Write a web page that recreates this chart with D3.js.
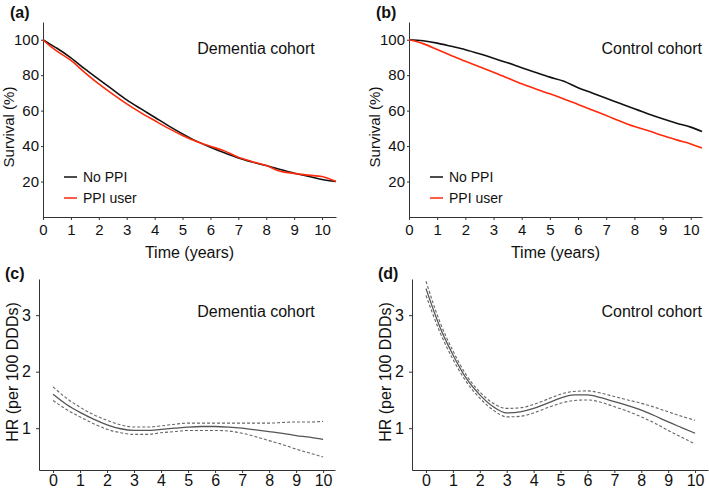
<html lang="en">
<head>
<meta charset="UTF-8">
<title>Survival and HR</title>
<script src="https://d3js.org/d3.v7.min.js"></script>
<style>
  body { margin: 0; background: #fff; }
  text { font-family: "Liberation Sans", Arial, sans-serif; fill: #111; }
  .axis path, .axis line { stroke: #333; }
  .axis text { font-size: 15px; }
</style>
</head>
<body>
<svg width="709" height="489"></svg>
<script>
// ---- data ----
var kmYears = [0, 0.25, 0.5, 1, 1.5, 2, 2.5, 3, 3.5, 4, 4.5, 5, 5.5, 6, 6.5, 7, 7.5, 8, 8.5, 9, 9.5, 10, 10.5];
var demNoPPI = [100, 97.5, 95.2, 89.8, 83.5, 77.6, 71.8, 66.1, 61.1, 56.3, 51.4, 46.9, 42.8, 39.4, 36.2, 33.3, 31.0, 29.0, 26.8, 24.7, 23.0, 21.2, 20];
var demPPI   = [100, 96.5, 93.6, 88.3, 81.5, 75.1, 69.3, 63.8, 58.9, 54.4, 50.0, 46.0, 42.6, 39.9, 37.3, 33.7, 31.2, 29.0, 25.8, 24.6, 23.6, 22.8, 20];
var conYears = [0, 0.5, 1, 1.5, 2, 2.5, 3, 3.5, 4, 4.5, 5, 5.5, 6, 6.5, 7, 7.5, 8, 8.5, 9, 9.5, 10, 10.4];
var conNoPPI = [100, 99.4, 98.1, 96.3, 94.4, 92.1, 89.6, 87.0, 84.2, 81.5, 78.9, 76.6, 72.9, 70.0, 67.0, 64.0, 61.0, 58.1, 55.4, 52.9, 50.7, 48.2];
var conPPI   = [100, 97.8, 94.5, 91.1, 87.8, 84.8, 81.7, 78.4, 75.1, 72.2, 69.5, 66.6, 63.5, 60.4, 57.3, 54.0, 51.0, 48.6, 46.0, 43.5, 41.2, 38.9];
var survTicks = [20, 40, 60, 80, 100];
var yearTicks = [0, 1, 2, 3, 4, 5, 6, 7, 8, 9, 10];

var hrYears = [0, 0.5, 1, 1.5, 2, 2.5, 3, 3.5, 4, 4.5, 5, 5.5, 6, 6.5, 7, 7.5, 8, 8.5, 9, 9.5, 10];
var demHR    = [1.60, 1.42, 1.28, 1.16, 1.06, 0.99, 0.96, 0.96, 0.98, 1.00, 1.02, 1.03, 1.03, 1.02, 1.00, 0.97, 0.94, 0.91, 0.87, 0.84, 0.80];
var demHRhi  = [1.73, 1.53, 1.37, 1.24, 1.14, 1.06, 1.02, 1.02, 1.04, 1.07, 1.09, 1.09, 1.09, 1.09, 1.09, 1.09, 1.09, 1.10, 1.11, 1.11, 1.12];
var demHRlo  = [1.49, 1.33, 1.20, 1.08, 0.98, 0.92, 0.89, 0.89, 0.92, 0.94, 0.96, 0.96, 0.96, 0.95, 0.91, 0.85, 0.78, 0.71, 0.63, 0.56, 0.49];
var conHR    = [3.47, 2.81, 2.30, 1.88, 1.59, 1.38, 1.27, 1.29, 1.35, 1.44, 1.53, 1.59, 1.59, 1.54, 1.47, 1.40, 1.32, 1.22, 1.11, 1.01, 0.91];
var conHRhi  = [3.60, 2.90, 2.37, 1.94, 1.64, 1.44, 1.35, 1.36, 1.42, 1.51, 1.60, 1.65, 1.66, 1.62, 1.56, 1.50, 1.44, 1.37, 1.29, 1.21, 1.14];
var conHRlo  = [3.35, 2.72, 2.22, 1.82, 1.53, 1.32, 1.20, 1.21, 1.27, 1.36, 1.44, 1.49, 1.50, 1.46, 1.38, 1.30, 1.20, 1.09, 0.96, 0.84, 0.72];
var hrTicks = [1, 2, 3];

var svg = d3.select("svg");

function zip(xs, ys) { return xs.map(function (x, i) { return [x, ys[i]]; }); }

// survival panel
function survPanel(o) {
  var x = d3.scaleLinear().domain([0, o.xmax]).range([o.x0, o.x1]);
  var y = d3.scaleLinear().domain([0, 110]).range([217, 22]);
  svg.append("g").attr("class", "axis")
    .attr("transform", "translate(0,217)")
    .call(d3.axisBottom(x).tickValues(yearTicks).tickSize(3).tickSizeOuter(0).tickPadding(4));
  svg.append("g").attr("class", "axis")
    .attr("transform", "translate(" + o.x0 + ",0)")
    .call(d3.axisLeft(y).tickValues(survTicks).tickSize(2).tickSizeOuter(0).tickPadding(2));

  var line = d3.line().x(function (d) { return x(d[0]); }).y(function (d) { return y(d[1]); })
    .curve(d3.curveMonotoneX);
  o.series.forEach(function (s) {
    svg.append("path").datum(zip(o.years, s.values))
      .attr("fill", "none").attr("stroke", s.color).attr("stroke-width", 1.6)
      .attr("d", line);
  });

  // legend
  o.series.forEach(function (s, i) {
    var ly = 177 + i * 21;
    svg.append("line").attr("x1", o.x0 + 21).attr("x2", o.x0 + 34)
      .attr("y1", ly).attr("y2", ly).attr("stroke", s.color).attr("stroke-width", 1.5);
    svg.append("text").attr("x", o.x0 + 40).attr("y", ly).attr("dy", "0.35em")
      .style("font-size", "14px").text(s.name);
  });

  svg.append("text").attr("x", (o.x0 + o.x1) / 2).attr("y", 252).attr("dy", "0.35em")
    .attr("text-anchor", "middle").style("font-size", "16px").text("Time (years)");
  svg.append("text").attr("transform", "translate(" + (o.x0 - 34) + ",127) rotate(-90)")
    .attr("text-anchor", "middle").attr("dy", "0.35em").style("font-size", "15px").text("Survival (%)");
  svg.append("text").attr("x", o.tx).attr("y", 48).attr("dy", "0.35em")
    .attr("text-anchor", o.anchor).style("font-size", "16px").text(o.title);
  svg.append("text").attr("x", o.x0 - 33).attr("y", 12).attr("dy", "0.35em")
    .style("font-size", "16px").style("font-weight", "bold").text(o.label);
}

// hazard ratio panel
function hrPanel(o) {
  var x = d3.scaleLinear().domain([-0.52, o.xmax]).range([o.x0, o.x1]);
  var y = d3.scaleLinear().domain([0.26, 3.64]).range([470, 279]);
  svg.append("g").attr("class", "axis")
    .attr("transform", "translate(0,470)")
    .call(d3.axisBottom(x).tickValues(yearTicks).tickSize(3).tickSizeOuter(0).tickPadding(2))
    .call(function (g) {
      g.selectAll("text").style("font-size", "16px");
      g.selectAll("path, line").attr("stroke", "#555");
    });
  svg.append("g").attr("class", "axis")
    .attr("transform", "translate(" + o.x0 + ",0)")
    .call(d3.axisLeft(y).tickValues(hrTicks).tickFormat(d3.format("d")).tickSize(3).tickSizeOuter(0).tickPadding(5))
    .call(function (g) {
      g.selectAll("text").style("font-size", "16px");
      g.selectAll("path, line").attr("stroke", "#555");
    });

  var line = d3.line().x(function (d) { return x(d[0]); }).y(function (d) { return y(d[1]); })
    .curve(d3.curveMonotoneX);
  svg.append("path").datum(zip(hrYears, o.hr))
    .attr("fill", "none").attr("stroke", "#555").attr("stroke-width", 1.3).attr("d", line);
  [o.hi, o.lo].forEach(function (vals) {
    svg.append("path").datum(zip(hrYears, vals))
      .attr("fill", "none").attr("stroke", "#666").attr("stroke-width", 1.1)
      .attr("stroke-dasharray", "3,2").attr("d", line);
  });

  svg.append("text").attr("transform", "translate(" + (o.x0 - 27) + ",372) rotate(-90)")
    .attr("text-anchor", "middle").attr("dy", "0.35em").style("font-size", "16px").text("HR (per 100 DDDs)");
  svg.append("text").attr("x", o.tx).attr("y", 311).attr("dy", "0.35em")
    .attr("text-anchor", o.anchor).style("font-size", "16px").text(o.title);
  svg.append("text").attr("x", o.x0 - 34).attr("y", 273).attr("dy", "0.35em")
    .style("font-size", "16px").style("font-weight", "bold").text(o.label);
}

survPanel({
  x0: 43, x1: 336, xmax: 10.5, years: kmYears, label: "(a)",
  title: "Dementia cohort", tx: 256, anchor: "middle",
  series: [{ name: "No PPI", color: "#111", values: demNoPPI },
           { name: "PPI user", color: "#ff2a0a", values: demPPI }]
});
survPanel({
  x0: 409, x1: 702, xmax: 10.4, years: conYears, label: "(b)",
  title: "Control cohort", tx: 702, anchor: "end",
  series: [{ name: "No PPI", color: "#111", values: conNoPPI },
           { name: "PPI user", color: "#ff2a0a", values: conPPI }]
});
hrPanel({
  x0: 39, x1: 335, xmax: 10.44, label: "(c)",
  title: "Dementia cohort", tx: 256, anchor: "middle",
  hr: demHR, hi: demHRhi, lo: demHRlo
});
hrPanel({
  x0: 412, x1: 708, xmax: 10.48, label: "(d)",
  title: "Control cohort", tx: 702, anchor: "end",
  hr: conHR, hi: conHRhi, lo: conHRlo
});
</script>
</body>
</html>
